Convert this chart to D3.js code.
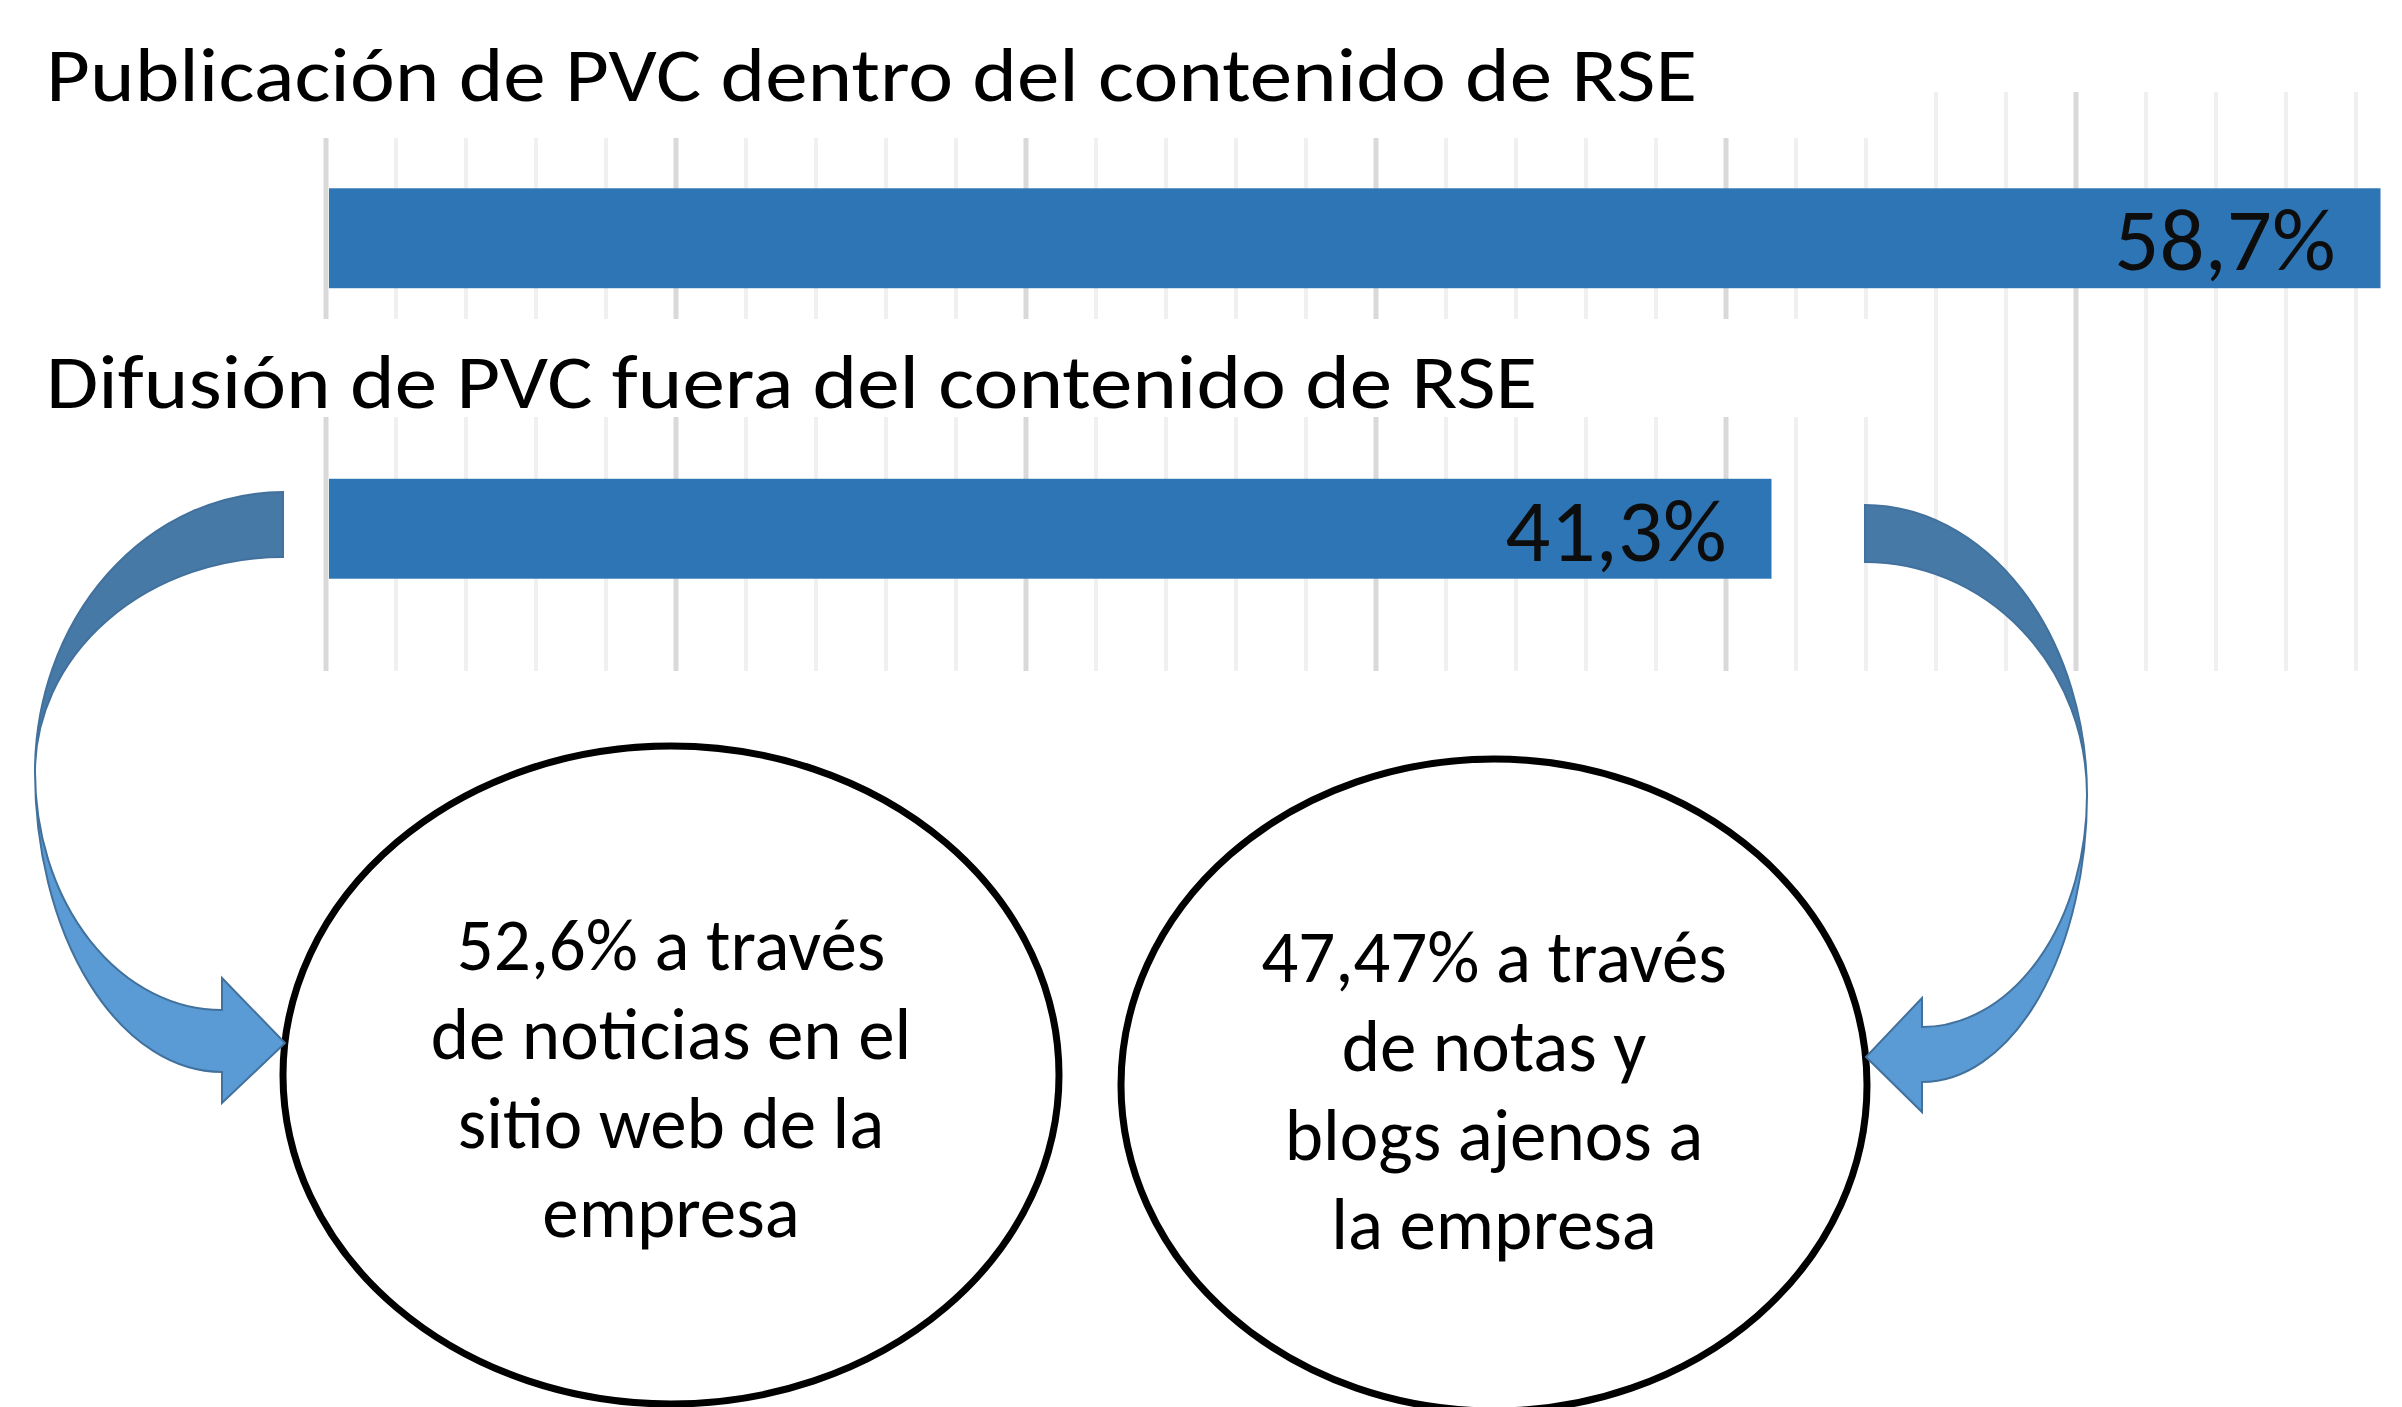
<!DOCTYPE html>
<meta charset="utf-8">
<script src="https://d3js.org/d3.v7.min.js"></script>
<style>
body { margin: 0; background: #fff; }
#chart text { font-family: Carlito, Calibri, Lato, sans-serif; fill: #000; }
</style>
<div id="chart"></div>
<script>
// data
var categories = ["Publicación de PVC dentro del contenido de RSE", "Difusión de PVC fuera del contenido de RSE"];
var values = [58.7, 41.3];
var valueLabels = ["58,7%", "41,3%"];
var leftBubble = ["52,6% a través", "de noticias en el", "sitio web de la", "empresa"];
var rightBubble = ["47,47% a través", "de notas y", "blogs ajenos a", "la empresa"];

var width = 2402, height = 1407;

var svg = d3.select("#chart").append("svg")
    .attr("width", width)
    .attr("height", height);

// scales
var x = d3.scaleLinear().domain([0, 60]).range([326, 2426]);
var y = d3.scaleBand().domain(categories).range([93, 674])
    .paddingInner(0.656).paddingOuter(0.328);

// vertical gridlines (minor every 2%, major every 10%)
svg.append("g").selectAll("line")
    .data(x.ticks(30).filter(function(d) { return x(d) < width; }))
    .enter().append("line")
    .attr("x1", function(d) { return x(d); })
    .attr("x2", function(d) { return x(d); })
    .attr("y1", 92)
    .attr("y2", 671)
    .attr("stroke", function(d) { return d % 10 === 0 ? "#d9d9d9" : "#f0f0f0"; })
    .attr("stroke-width", function(d) { return d % 10 === 0 ? 5 : 4; });

// white boxes behind titles
svg.append("rect").attr("x", 0).attr("y", 0).attr("width", 1900).attr("height", 138).attr("fill", "#fff");
svg.append("rect").attr("x", 0).attr("y", 319).attr("width", 1900).attr("height", 98).attr("fill", "#fff");

var titleY = [101, 408];
var titleW = [1651, 1491];
svg.append("g").selectAll("text")
    .data(categories)
    .enter().append("text")
    .attr("x", 46)
    .attr("y", function(d, i) { return titleY[i]; })
    .attr("font-size", "77px")
    .attr("textLength", function(d, i) { return titleW[i]; })
    .attr("lengthAdjust", "spacingAndGlyphs")
    .text(function(d) { return d; });

// bars
svg.append("g").selectAll("rect")
    .data(values)
    .enter().append("rect")
    .attr("x", x(0) + 3)
    .attr("y", function(d, i) { return y(categories[i]); })
    .attr("width", function(d) { return x(d) - x(0) - 3; })
    .attr("height", y.bandwidth())
    .attr("fill", "#2e75b6");

svg.append("g").selectAll("text")
    .data(values)
    .enter().append("text")
    .attr("x", function(d) { return x(d) - 45; })
    .attr("y", function(d, i) { return y(categories[i]) + y.bandwidth() / 2 + 32; })
    .attr("text-anchor", "end")
    .attr("font-size", "89px")
    .style("fill", "#0d0d0d")
    .text(function(d, i) { return valueLabels[i]; });

// ellipses with text
var bubbles = [
  { cx: 671, cy: 1075, rx: 388, ry: 329, y0: 970, lines: leftBubble },
  { cx: 1494, cy: 1085, rx: 373, ry: 326, y0: 982, lines: rightBubble }
];
bubbles.forEach(function(b) {
  svg.append("ellipse")
    .attr("cx", b.cx).attr("cy", b.cy)
    .attr("rx", b.rx).attr("ry", b.ry)
    .attr("fill", "#fff")
    .attr("stroke", "#000")
    .attr("stroke-width", 7);
  svg.append("g").selectAll("text")
    .data(b.lines)
    .enter().append("text")
    .attr("x", b.cx)
    .attr("y", function(d, i) { return b.y0 + i * 89; })
    .attr("text-anchor", "middle")
    .attr("font-size", "73px")
    .text(function(d) { return d; });
});

// curved arrows
function curvedArrow(a, dir) {
  // dir = -1 bends to the left, +1 bends to the right
  var s1 = dir < 0 ? 0 : 1, s2 = 1 - s1;
  var rxTop = Math.abs(a.e - a.xm), rxBot = Math.abs(a.xb - a.xm);
  var back = "M" + a.e + "," + a.yt +
    "A" + rxTop + "," + (a.ym - a.yt) + " 0 0 " + s1 + " " + a.xm + "," + a.ym +
    "A" + rxTop + "," + (a.ym - a.yb) + " 0 0 " + s2 + " " + a.e + "," + a.yb + "Z";
  var front = "M" + a.xm + "," + a.ym +
    "A" + rxBot + "," + (a.sb - a.ym) + " 0 0 " + s1 + " " + a.xb + "," + a.sb +
    "L" + a.xb + "," + a.hb +
    "L" + a.tx + "," + a.ty +
    "L" + a.xb + "," + a.ht +
    "L" + a.xb + "," + a.st +
    "A" + rxBot + "," + (a.st - a.ym) + " 0 0 " + s2 + " " + a.xm + "," + a.ym + "Z";
  svg.append("path").attr("d", back)
    .attr("fill", "#4779a7").attr("stroke", "#41719c").attr("stroke-width", 2);
  svg.append("path").attr("d", front)
    .attr("fill", "#5b9bd5").attr("stroke", "#41719c").attr("stroke-width", 2);
}

curvedArrow({ e: 283, yt: 492, yb: 557, xm: 35, ym: 772, xb: 222, st: 1010, sb: 1072, ht: 978, hb: 1103, tx: 285, ty: 1043 }, -1);
curvedArrow({ e: 1865, yt: 505, yb: 562, xm: 2087, ym: 795, xb: 1922, st: 1027, sb: 1082, ht: 998, hb: 1112, tx: 1866, ty: 1057 }, 1);
</script>
